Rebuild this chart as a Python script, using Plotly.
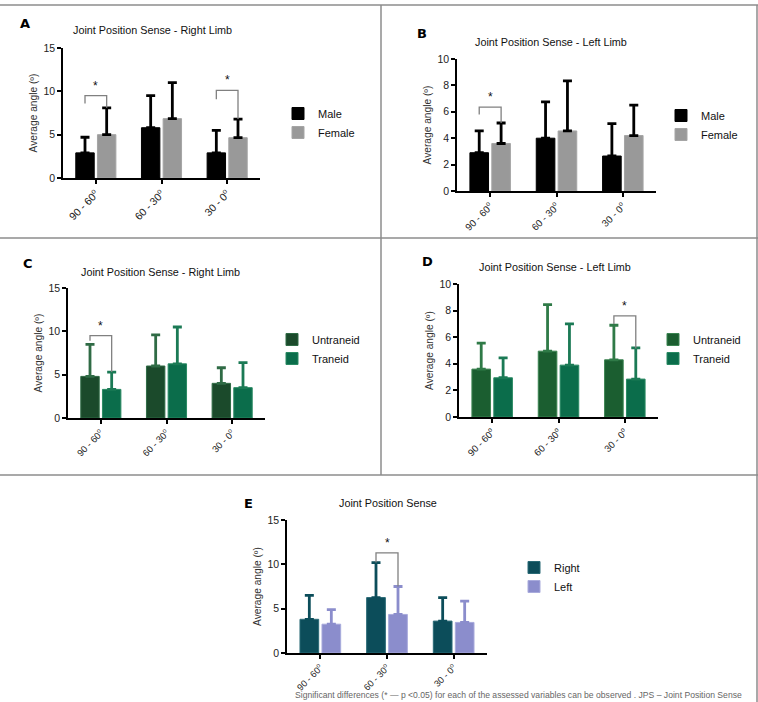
import plotly.graph_objects as go

W, H = 758, 702

CATEGORIES = ["90 - 60", "60 - 30", "30 - 0"]
TICK_LABELS = ["90 - 60<sup>o</sup>", "60 - 30<sup>o</sup>", "30 - 0<sup>o</sup>"]

# Panel A - right limb by sex
A_male = [2.9, 5.8, 2.9]
A_male_sd = [1.8, 3.7, 2.6]
A_female = [5.0, 6.85, 4.65]
A_female_sd = [3.1, 4.15, 2.15]

# Panel B - left limb by sex
B_male = [2.9, 4.0, 2.65]
B_male_sd = [1.65, 2.75, 2.45]
B_female = [3.6, 4.55, 4.2]
B_female_sd = [1.55, 3.8, 2.3]

# Panel C - right limb by training
C_untrained = [4.8, 6.0, 4.0]
C_untrained_sd = [3.7, 3.6, 1.8]
C_trained = [3.3, 6.25, 3.5]
C_trained_sd = [2.0, 4.25, 2.9]

# Panel D - left limb by training
D_untrained = [3.6, 4.95, 4.3]
D_untrained_sd = [1.95, 3.5, 2.6]
D_trained = [2.95, 3.9, 2.85]
D_trained_sd = [1.5, 3.1, 2.35]

# Panel E - right vs left
E_right = [3.8, 6.25, 3.6]
E_right_sd = [2.7, 3.95, 2.65]
E_left = [3.25, 4.35, 3.45]
E_left_sd = [1.65, 3.15, 2.4]

# significance brackets: (category index, bracket level, left leg end, right leg end)
A_sig = [(0, 9.5, 8.6, 8.1), (2, 10.1, 9.1, 6.8)]
B_sig = [(0, 6.35, 5.8, 5.15)]
C_sig = [(0, 9.5, 8.9, 5.3)]
D_sig = [(2, 7.6, 7.0, 5.15)]
E_sig = [(1, 11.3, 10.2, 7.5)]

BARGAP = 0.34
BARGROUPGAP = 0.15
OFF = (1 - BARGAP) / 4


def fx(px):
    return px / W


def fy(py):
    return 1 - py / H


panels = [
    dict(key="A", title="Joint Position Sense - Right Limb", ymax=15, dt=5, tfs=10.5,
         x0=63, x1=260, ytop=48, ybot=178, lab=(25, 24), tit=(152, 30),
         s1=("Male", A_male, A_male_sd, "#000000", "#000000", "#000000"),
         s2=("Female", A_female, A_female_sd, "#999999", "#a5a5a5", "#000000"),
         sig=A_sig, leg=(318, 99)),
    dict(key="B", title="Joint Position Sense - Left Limb", ymax=10, dt=2, tfs=9.8,
         x0=457, x1=656, ytop=59, ybot=191, lab=(422, 33), tit=(551, 42),
         s1=("Male", B_male, B_male_sd, "#000000", "#000000", "#000000"),
         s2=("Female", B_female, B_female_sd, "#999999", "#a5a5a5", "#000000"),
         sig=B_sig, leg=(701, 101)),
    dict(key="C", title="Joint Position Sense - Right Limb", ymax=15, dt=5, tfs=9.4,
         x0=68, x1=265, ytop=288, ybot=418, lab=(28, 263), tit=(160, 272),
         s1=("Untraneid", C_untrained, C_untrained_sd, "#1b4a2b", "#2f6b45", "#2f6b45"),
         s2=("Traneid", C_trained, C_trained_sd, "#0b6d4b", "#2a8a63", "#1b7a55"),
         sig=C_sig, leg=(312, 325)),
    dict(key="D", title="Joint Position Sense - Left Limb", ymax=10, dt=2, tfs=9.6,
         x0=459, x1=658, ytop=284, ybot=417, lab=(427, 261), tit=(555, 267),
         s1=("Untraneid", D_untrained, D_untrained_sd, "#1b5e30", "#3b8451", "#2f7a47"),
         s2=("Traneid", D_trained, D_trained_sd, "#0b6d4b", "#2a8a63", "#1b7a55"),
         sig=D_sig, leg=(693, 325)),
    dict(key="E", title="Joint Position Sense", ymax=15, dt=5, tfs=9.2,
         x0=287, x1=487, ytop=520, ybot=653, lab=(248, 503), tit=(388, 503),
         s1=("Right", E_right, E_right_sd, "#0c4d5a", "#2a6a76", "#0c4d5a"),
         s2=("Left", E_left, E_left_sd, "#8b8dcc", "#a9abdc", "#8b8dcc"),
         sig=E_sig, leg=(554, 553)),
]

fig = go.Figure()
shapes = []
annotations = []
layout = {}

FONT = "Liberation Sans, Arial, sans-serif"
YTICK_FONT = dict(family=FONT, size=10.5, color="#222222")

for i, p in enumerate(panels):
    n = "" if i == 0 else str(i + 1)
    xa, ya = "x" + n, "y" + n
    legname = "legend" + n
    for (name, vals, sd, col, edge, ecol) in (p["s1"], p["s2"]):
        fig.add_trace(go.Bar(
            x=CATEGORIES, y=vals, name=name, xaxis=xa, yaxis=ya,
            marker=dict(color=col, line=dict(color=edge, width=1)),
            error_y=dict(type="data", array=sd, arrayminus=[0] * len(sd), symmetric=False,
                         color=ecol, thickness=2.8, width=4.5),
            legend=legname, showlegend=True,
        ))
    layout["xaxis" + n] = dict(
        domain=[fx(p["x0"]), fx(p["x1"])], anchor=ya, type="category",
        categoryorder="array", categoryarray=CATEGORIES, automargin=False,
        range=[-0.5, 2.5], tickmode="array", tickvals=CATEGORIES, ticktext=TICK_LABELS,
        tickangle=-45, showline=True, linecolor="black", linewidth=1.5,
        ticks="outside", ticklen=4, tickwidth=1.5, tickcolor="black",
        showgrid=False, zeroline=False, fixedrange=True,
        tickfont=dict(family=FONT, size=p["tfs"], color="#222222"),
    )
    layout["yaxis" + n] = dict(
        domain=[fy(p["ybot"]), fy(p["ytop"])], anchor=xa, range=[0, p["ymax"]],
        tick0=0, dtick=p["dt"], showline=True, linecolor="black", linewidth=1.5,
        ticks="outside", ticklen=4, tickwidth=1.5, tickcolor="black", automargin=False,
        showgrid=False, zeroline=False, tickfont=YTICK_FONT,
        title=dict(text="Average angle (º)", standoff=4,
                   font=dict(family=FONT, size=10.2, color="#333333")),
    )
    layout[legname] = dict(
        x=fx(p["leg"][0] - 40), y=fy(p["leg"][1]), xanchor="left", yanchor="top",
        bgcolor="rgba(0,0,0,0)", borderwidth=0, tracegroupgap=0,
        font=dict(family=FONT, size=11, color="#111111"),
    )
    # panel letter and title
    annotations.append(dict(text="<b>" + p["key"] + "</b>", x=fx(p["lab"][0]), y=fy(p["lab"][1]),
                            xref="paper", yref="paper", showarrow=False, xanchor="center",
                            yanchor="middle",
                            font=dict(family="DejaVu Sans, sans-serif", size=13, color="#000")))
    annotations.append(dict(text=p["title"], x=fx(p["tit"][0]), y=fy(p["tit"][1]),
                            xref="paper", yref="paper", showarrow=False, xanchor="center",
                            yanchor="middle",
                            font=dict(family=FONT, size=10.8, color="#111111")))
    # significance brackets
    for (ci, lvl, lend, rend) in p["sig"]:
        xl, xr = ci - OFF, ci + OFF
        shapes.append(dict(type="path", xref=xa, yref=ya,
                           path=f"M {xl},{lend} L {xl},{lvl} L {xr},{lvl} L {xr},{rend}",
                           line=dict(color="#808080", width=1.3)))
        annotations.append(dict(text="*", x=ci, y=lvl, xref=xa, yref=ya, showarrow=False,
                                yanchor="bottom", yshift=1,
                                font=dict(family=FONT, size=12, color="#111")))

# frame lines between panels
line_style = dict(color="#8c8c8c", width=1.5)
for (x0, y0, x1, y1) in [(0, 5, 758, 5), (381, 5, 381, 475), (0, 238, 758, 238),
                         (0, 475, 758, 475), (757, 5, 757, 702)]:
    shapes.append(dict(type="line", xref="paper", yref="paper",
                       x0=fx(x0), y0=fy(y0), x1=fx(x1), y1=fy(y1), line=line_style))

annotations.append(dict(
    text="Significant differences (* — p <0.05) for each of the assessed variables can be observed . JPS – Joint Position Sense",
    x=fx(293), y=fy(702), xref="paper", yref="paper", showarrow=False, xanchor="left", yanchor="bottom",
    font=dict(family=FONT, size=8.6, color="#666666")))

fig.update_layout(
    width=W, height=H, margin=dict(l=0, r=0, t=0, b=0, autoexpand=False),
    paper_bgcolor="white", plot_bgcolor="white",
    barmode="group", bargap=BARGAP, bargroupgap=BARGROUPGAP,
    shapes=shapes, annotations=annotations, **layout,
)

fig.write_html("out.html", config={"displayModeBar": False},
               post_script="document.body.style.margin='0';document.body.style.overflow='hidden';")
